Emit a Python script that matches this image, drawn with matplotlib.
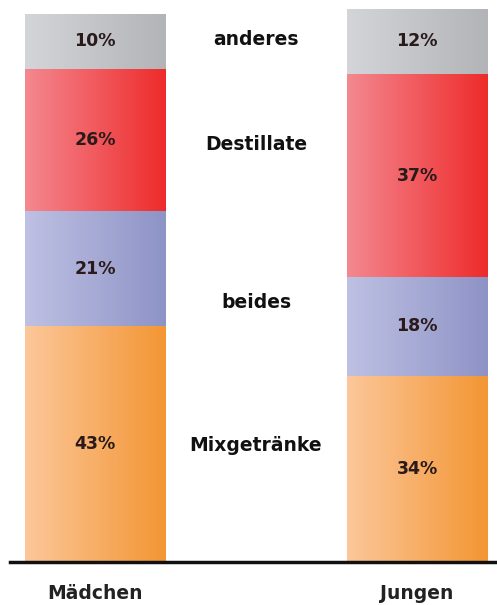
import numpy as np
import matplotlib
matplotlib.use("Agg")
import matplotlib.pyplot as plt
from matplotlib.colors import LinearSegmentedColormap

# data (bottom to top)
groups = ["Mädchen", "Jungen"]
categories = ["Mixgetränke", "beides", "Destillate", "anderes"]
maedchen = [43, 21, 26, 10]
jungen = [34, 18, 37, 12]
# where the category names sit (percent height)
cat_label_y = [21.2, 47.3, 76.1, 95.3]

# light -> dark gradient per category
grad_colors = [("#fcc79a", "#f39634"),
               ("#bec1e3", "#8e93c6"),
               ("#f48890", "#ee2b2b"),
               ("#d3d5d9", "#b2b4b8")]

fig = plt.figure(figsize=(4.97, 6.05), dpi=100)
# y=0 at 562px from top, y=100 at 14px
ax = fig.add_axes([0, 43 / 605, 1, 562 / 605])

x = np.arange(len(groups))
width = 0.435
values = np.array([maedchen, jungen]).T
bottoms = np.zeros(len(groups))
gradient = np.linspace(0, 1, 256).reshape(1, -1)

for i, cat in enumerate(categories):
    bars = ax.bar(x, values[i], width, bottom=bottoms, color="none", edgecolor="none")
    cmap = LinearSegmentedColormap.from_list(cat, grad_colors[i])
    for j, b in enumerate(bars):
        x0, y0 = b.get_x(), b.get_y()
        im = ax.imshow(gradient, cmap=cmap, aspect="auto",
                       extent=(x0, x0 + b.get_width(), y0, y0 + b.get_height()),
                       zorder=1)
        im.set_clip_path(b)
        ax.text(x[j], bottoms[j] + values[i][j] / 2, f"{values[i][j]}%",
                ha="center", va="center", fontsize=12.5, fontweight="bold",
                color="#2b1a1a", zorder=3)
    bottoms += values[i]

# category names between the bars
for cat, yy in zip(categories, cat_label_y):
    ax.text(0.5, yy, cat, ha="center", va="center", fontsize=13.5,
            fontweight="bold", color="#111111")

ax.set_xlim(-95 / 322, 1 + 80 / 322)
ax.set_ylim(0, 100 * 562 / 548)
ax.axhline(0, xmin=10 / 497, xmax=1, color="#111111", lw=2.5, zorder=4, clip_on=False)

for sp in ax.spines.values():
    sp.set_visible(False)
ax.set_yticks([])
ax.set_xticks(x)
ax.set_xticklabels(groups, fontsize=13.5, fontweight="bold", color="#222222")
ax.tick_params(axis="x", length=0, pad=16)

fig.savefig("out.png", dpi=100)
